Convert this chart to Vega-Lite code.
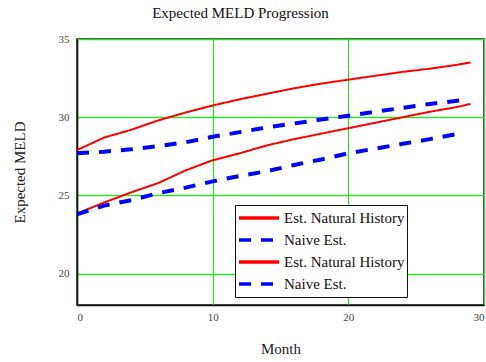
{
  "$schema": "https://vega.github.io/schema/vega-lite/v6.json",
  "autosize": "none",
  "width": 407,
  "height": 266,
  "padding": {"left": 77, "top": 39, "right": 2, "bottom": 57},
  "background": "white",
  "title": {"text": "Expected MELD Progression", "font": "Liberation Serif", "fontSize": 15, "fontWeight": "normal", "color": "#111", "offset": 12, "anchor": "middle", "dx": -40},
  "config": {
    "view": {"stroke": "#111", "strokeWidth": 1.5},
    "axis": {"labelFont": "Liberation Serif", "titleFont": "Liberation Serif", "labelFontSize": 11, "titleFontSize": 15, "titleFontWeight": "normal", "labelColor": "#444", "titleColor": "#222", "gridColor": "#33dd33", "gridWidth": 1.3, "gridOpacity": 1, "domainColor": "#111", "domainWidth": 1.5, "ticks": false}
  },
  "data": {"values": [
    {"m": 0, "v": 27.9, "s": "a"}, {"m": 2, "v": 28.7, "s": "a"}, {"m": 4, "v": 29.2, "s": "a"}, {"m": 6, "v": 29.8, "s": "a"}, {"m": 8, "v": 30.3, "s": "a"}, {"m": 10, "v": 30.75, "s": "a"}, {"m": 12, "v": 31.15, "s": "a"}, {"m": 14, "v": 31.5, "s": "a"}, {"m": 16, "v": 31.85, "s": "a"}, {"m": 18, "v": 32.15, "s": "a"}, {"m": 20, "v": 32.4, "s": "a"}, {"m": 22, "v": 32.65, "s": "a"}, {"m": 24, "v": 32.9, "s": "a"}, {"m": 26, "v": 33.1, "s": "a"}, {"m": 28, "v": 33.35, "s": "a"}, {"m": 29, "v": 33.5, "s": "a"},
    {"m": 0, "v": 27.7, "s": "b"}, {"m": 2, "v": 27.8, "s": "b"}, {"m": 4, "v": 27.95, "s": "b"}, {"m": 6, "v": 28.15, "s": "b"}, {"m": 8, "v": 28.4, "s": "b"}, {"m": 10, "v": 28.75, "s": "b"}, {"m": 12, "v": 29.05, "s": "b"}, {"m": 14, "v": 29.35, "s": "b"}, {"m": 16, "v": 29.6, "s": "b"}, {"m": 18, "v": 29.85, "s": "b"}, {"m": 20, "v": 30.1, "s": "b"}, {"m": 22, "v": 30.35, "s": "b"}, {"m": 24, "v": 30.6, "s": "b"}, {"m": 26, "v": 30.85, "s": "b"}, {"m": 28.5, "v": 31.1, "s": "b"},
    {"m": 0, "v": 23.85, "s": "c"}, {"m": 2, "v": 24.55, "s": "c"}, {"m": 4, "v": 25.2, "s": "c"}, {"m": 6, "v": 25.8, "s": "c"}, {"m": 8, "v": 26.6, "s": "c"}, {"m": 10, "v": 27.25, "s": "c"}, {"m": 12, "v": 27.7, "s": "c"}, {"m": 14, "v": 28.2, "s": "c"}, {"m": 16, "v": 28.6, "s": "c"}, {"m": 18, "v": 28.95, "s": "c"}, {"m": 20, "v": 29.3, "s": "c"}, {"m": 22, "v": 29.65, "s": "c"}, {"m": 24, "v": 30.0, "s": "c"}, {"m": 26, "v": 30.35, "s": "c"}, {"m": 28, "v": 30.65, "s": "c"}, {"m": 29, "v": 30.85, "s": "c"},
    {"m": 0, "v": 23.8, "s": "d"}, {"m": 2, "v": 24.35, "s": "d"}, {"m": 4, "v": 24.7, "s": "d"}, {"m": 6, "v": 25.15, "s": "d"}, {"m": 8, "v": 25.5, "s": "d"}, {"m": 10, "v": 25.9, "s": "d"}, {"m": 12, "v": 26.25, "s": "d"}, {"m": 14, "v": 26.55, "s": "d"}, {"m": 16, "v": 26.95, "s": "d"}, {"m": 18, "v": 27.3, "s": "d"}, {"m": 20, "v": 27.7, "s": "d"}, {"m": 22, "v": 28.0, "s": "d"}, {"m": 24, "v": 28.3, "s": "d"}, {"m": 26, "v": 28.6, "s": "d"}, {"m": 28.5, "v": 29.0, "s": "d"}
  ]},
  "encoding": {
    "x": {"field": "m", "type": "quantitative", "title": "Month", "scale": {"domain": [0, 30], "nice": false}, "axis": {"values": [0, 10, 20, 30], "labelPadding": 6, "titlePadding": 19}},
    "y": {"field": "v", "type": "quantitative", "title": "Expected MELD", "scale": {"domain": [18, 35], "nice": false, "zero": false}, "axis": {"values": [20, 25, 30, 35], "labelPadding": 8, "titlePadding": 31}},
    "color": {"field": "s", "type": "nominal", "scale": {"domain": ["a", "b", "c", "d"], "range": ["#ff0000", "#0000ff", "#ff0000", "#0000ff"]},
      "legend": {"title": null, "orient": "none", "legendX": 158, "legendY": 166, "labelExpr": "datum.value == 'a' ? 'Est. Natural History\u00a0\u00a0\u00a0\u00a0\u00a0\u00a0\u00a0\u00a0\u00a0\u00a0\u00a0\u00a0\u00a0\u00a0\u00a0\u00a0\u00a0' : datum.value == 'c' ? 'Est. Natural History' : 'Naive Est.'", "labelFont": "Liberation Serif", "labelFontSize": 15, "labelColor": "#111", "labelLimit": 400, "symbolType": "stroke", "symbolSize": 1600, "symbolStrokeWidth": 3.5, "symbolDash": [12, 8], "rowPadding": 0, "clipHeight": 22, "labelOffset": 3, "strokeColor": "#111", "fillColor": "white", "padding": 2, "cornerRadius": 0}},
    "strokeDash": {"field": "s", "type": "nominal", "scale": {"domain": ["a", "b", "c", "d"], "range": [[1, 0], [12, 10], [1, 0], [12, 10]]}, "legend": null}
  },
  "layer": [
    {"transform": [{"filter": "datum.s == 'a' || datum.s == 'c'"}], "mark": {"type": "line", "clip": true, "strokeWidth": 2}},
    {"transform": [{"filter": "datum.s == 'b' || datum.s == 'd'"}], "mark": {"type": "line", "clip": true, "strokeWidth": 4}}
  ]
}
